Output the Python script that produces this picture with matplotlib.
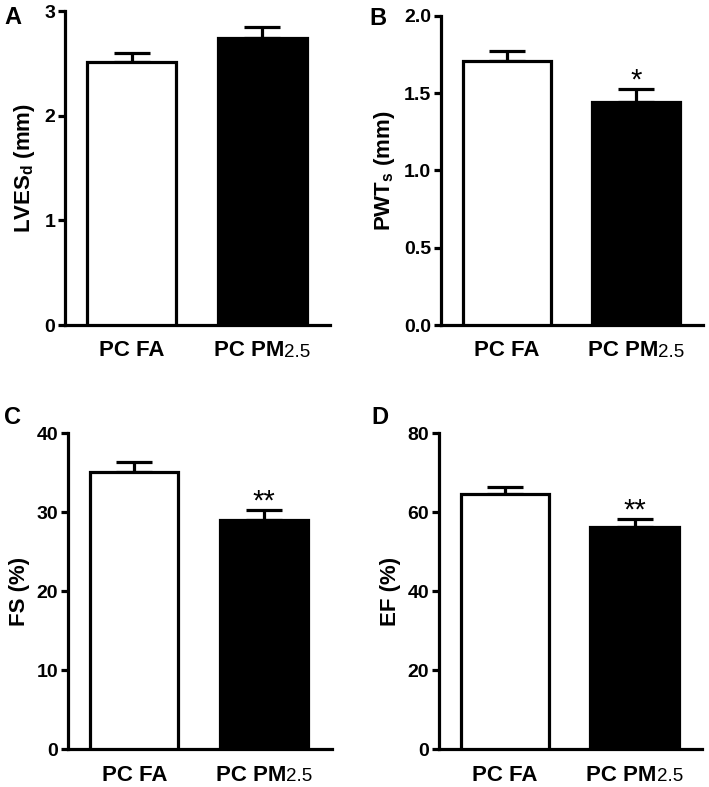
import matplotlib
matplotlib.use("Agg")
import matplotlib.pyplot as plt
import matplotlib.transforms as mtransforms

plt.rcParams['font.family'] = ['Liberation Sans', 'DejaVu Sans']
plt.rcParams['font.weight'] = 'bold'
plt.rcParams['mathtext.fontset'] = 'custom'
plt.rcParams['mathtext.rm'] = 'Liberation Sans:bold'
plt.rcParams['mathtext.bf'] = 'Liberation Sans:bold'

# data
groups = ['PC FA', 'PC PM']
lves_mean = [2.51, 2.74]
lves_err = [0.09, 0.11]
pwt_mean = [1.71, 1.44]
pwt_err = [0.06, 0.085]
fs_mean = [35.1, 29.0]
fs_err = [1.3, 1.3]
ef_mean = [64.6, 56.2]
ef_err = [1.8, 2.0]

panels = [
    ('A', lves_mean, lves_err, r'LVES$_\mathregular{d}$ (mm)', [0, 1, 2, 3], ['0', '1', '2', '3'], ''),
    ('B', pwt_mean, pwt_err, r'PWT$_\mathregular{s}$ (mm)', [0, 0.5, 1.0, 1.5, 2.0], ['0.0', '0.5', '1.0', '1.5', '2.0'], '*'),
    ('C', fs_mean, fs_err, 'FS (%)', [0, 10, 20, 30, 40], ['0', '10', '20', '30', '40'], '**'),
    ('D', ef_mean, ef_err, 'EF (%)', [0, 20, 40, 60, 80], ['0', '20', '40', '60', '80'], '**'),
]

# axes boxes [left, bottom, width, height] in figure fractions
boxes = [
    [0.0917, 0.587, 0.374, 0.399],
    [0.622, 0.587, 0.370, 0.393],
    [0.0959, 0.048, 0.372, 0.4015],
    [0.619, 0.048, 0.371, 0.4015],
]
letter_pos = [(0.006, 0.993), (0.521, 0.991), (0.006, 0.484), (0.524, 0.484)]

fig = plt.figure(figsize=(7.09, 7.87), dpi=100)
lw = 2.3

for (letter, mean, err, ylab, yt, ytl, star), box, lp in zip(panels, boxes, letter_pos):
    ax = fig.add_axes(box)
    x = [0, 1]
    ax.bar(x, mean, width=0.68, color=['white', 'black'], edgecolor='black',
           linewidth=lw, zorder=3)
    ax.errorbar(x, mean, yerr=[[0, 0], err], fmt='none', ecolor='black',
                elinewidth=lw, capsize=13, capthick=lw, zorder=2)
    ax.set_xlim(-0.51, 1.52)
    ax.set_ylim(yt[0], yt[-1])
    ax.set_yticks(yt)
    ax.set_yticklabels(ytl, fontsize=14, fontweight='bold')
    ax.set_xticks(x)
    ax.set_xticklabels(groups, fontsize=16, fontweight='bold')
    ax.tick_params(axis='x', length=0, pad=11)
    ax.tick_params(axis='y', length=5, width=lw, direction='out', pad=2)
    ax.spines['top'].set_visible(False)
    ax.spines['right'].set_visible(False)
    ax.spines['left'].set_linewidth(lw)
    ax.spines['bottom'].set_linewidth(lw)
    ax.set_ylabel(ylab, fontsize=16, fontweight='bold', labelpad=5)

    # shift "PC PM" left and append a smaller non-bold "2.5"
    lab = ax.get_xticklabels()[1]
    lab.set_transform(lab.get_transform() +
                      mtransforms.ScaledTranslation(-0.13, 0, fig.dpi_scale_trans))
    ax.annotate('2.5', xy=(1, 0.02), xycoords=lab, va='bottom', ha='left',
                fontsize=13.5, fontweight='normal')

    if star:
        ax.annotate(star, xy=(1, mean[1] + err[1]), xytext=(0, -4),
                    textcoords='offset points', ha='center', va='bottom',
                    fontsize=21, fontweight='normal')

    fig.text(lp[0], lp[1], letter, fontsize=17, fontweight='bold', va='top', ha='left')

fig.savefig('out.png', dpi=100)
